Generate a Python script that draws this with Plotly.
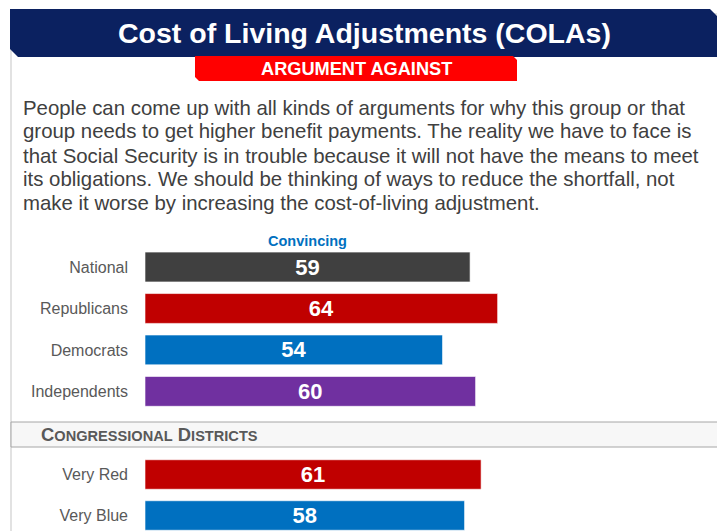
import plotly.graph_objects as go

W, H = 725, 531
OFF = 8  # page body margin offset

TITLE = "Cost of Living Adjustments (COLAs)"
BANNER = "ARGUMENT AGAINST"
BODY_LINES = [
    "People can come up with all kinds of arguments for why this group or that",
    "group needs to get higher benefit payments. The reality we have to face is",
    "that Social Security is in trouble because it will not have the means to meet",
    "its obligations. We should be thinking of ways to reduce the shortfall, not",
    "make it worse by increasing the cost-of-living adjustment.",
]
SERIES_NAME = "Convincing"

groups = ["National", "Republicans", "Democrats", "Independents"]
group_values = [59, 64, 54, 60]
group_colors = ["#404040", "#C00000", "#0070C0", "#7030A0"]

district_header = "Congressional Districts"
districts = ["Very Red", "Very Blue"]
district_values = [61, 58]
district_colors = ["#C00000", "#0070C0"]

FONT = "Liberation Sans, Arial"


def px(x):
    return (x - OFF) / W


def py(y):
    return 1 - (y - OFF) / H


fig = go.Figure()

common = dict(
    orientation="h",
    textposition="inside",
    insidetextanchor="middle",
    textangle=0,
    constraintext="none",
    textfont=dict(family=FONT, size=22, color="white", weight="bold"),
    marker_line=dict(color="rgba(255,255,255,0.6)", width=1),
    hoverinfo="skip",
    showlegend=False,
    cliponaxis=False,
)

fig.add_trace(go.Bar(
    y=groups, x=group_values, text=[str(v) for v in group_values],
    marker_color=group_colors, xaxis="x", yaxis="y", **common))
fig.add_trace(go.Bar(
    y=districts, x=district_values, text=[str(v) for v in district_values],
    marker_color=district_colors, xaxis="x2", yaxis="y2", **common))

xdom = [px(145), px(145 + 551)]
xcommon = dict(range=[0, 100], domain=xdom, showgrid=False, zeroline=False,
               showticklabels=False, showline=False, fixedrange=True)
ycommon = dict(showgrid=False, zeroline=False, showline=False, ticks="",
               tickfont=dict(family=FONT, size=16, color="#595959"),
               ticklabelstandoff=16, fixedrange=True)

top_px, bot_px = 246.3, 412.1
bottom_span = (H + OFF - 454) / 41.0
fig.update_layout(
    xaxis=dict(anchor="y", **xcommon),
    xaxis2=dict(anchor="y2", **xcommon),
    yaxis=dict(domain=[py(bot_px), py(top_px)], range=[3.5, -0.5], anchor="x",
               type="category", categoryorder="array", categoryarray=groups, **ycommon),
    yaxis2=dict(domain=[0, py(454)], range=[-0.5 + bottom_span, -0.5], anchor="x2",
                type="category", categoryorder="array", categoryarray=districts, **ycommon),
    bargap=0.28,
    width=W, height=H,
    margin=dict(l=0, r=0, t=0, b=0),
    paper_bgcolor="white", plot_bgcolor="rgba(0,0,0,0)",
    font=dict(family=FONT),
)

shapes = []
shapes.append(dict(type="rect", xref="paper", yref="paper",
                   x0=px(11), x1=px(719), y0=py(545), y1=py(14),
                   line=dict(color="#D9D9D9", width=1.5), fillcolor="rgba(0,0,0,0)", layer="below"))
pts = [(10, 9), (710, 9), (718, 17), (718, 57), (18, 57), (10, 49)]
path = "M " + " L ".join(f"{px(x):.5f},{py(y):.5f}" for x, y in pts) + " Z"
shapes.append(dict(type="path", xref="paper", yref="paper", path=path,
                   fillcolor="#0B2160", line=dict(width=0), layer="below"))
bpts = [(195, 56), (513, 56), (517, 60), (517, 81), (199, 81), (195, 77)]
bpath = "M " + " L ".join(f"{px(x):.5f},{py(y):.5f}" for x, y in bpts) + " Z"
shapes.append(dict(type="path", xref="paper", yref="paper", path=bpath,
                   fillcolor="#FF0000", line=dict(width=0), layer="below"))
shapes.append(dict(type="rect", xref="paper", yref="paper",
                   x0=px(11), x1=px(719), y0=py(447), y1=py(422),
                   fillcolor="#F7F7F7", line=dict(color="#A6A6A6", width=1), layer="below"))
fig.update_layout(shapes=shapes)


def smallcaps(s, big=18.4, small=14.6):
    out = []
    for word in s.split(" "):
        out.append(f"<span style='font-size:{big}px'>{word[0].upper()}</span>"
                   f"<span style='font-size:{small}px'>{word[1:].upper()}</span>")
    return " ".join(out)


annotations = [
    dict(text=f"<b>{TITLE}</b>", x=px(364), y=py(33), xref="paper", yref="paper",
         showarrow=False, font=dict(size=28.5, color="white", family=FONT),
         xanchor="center", yanchor="middle"),
    dict(text=f"<b>{BANNER}</b>", x=px(356), y=py(69), xref="paper", yref="paper",
         showarrow=False, font=dict(size=18.2, color="white", family=FONT),
         xanchor="center", yanchor="middle"),
    dict(text=f"<b>{SERIES_NAME}</b>", x=px(307), y=py(241), xref="paper", yref="paper",
         showarrow=False, font=dict(size=14.5, color="#0070C0", family=FONT),
         xanchor="center", yanchor="middle"),
    dict(text=f"<b>{smallcaps(district_header)}</b>", x=px(39), y=py(434.5), xref="paper", yref="paper",
         showarrow=False, font=dict(size=18.4, color="#595959", family=FONT),
         xanchor="left", yanchor="middle"),
]
body_y0, body_dy = 107.5, 24.0
for i, line in enumerate(BODY_LINES):
    annotations.append(dict(text=line, x=px(21), y=py(body_y0 + i * body_dy), xref="paper", yref="paper",
                            showarrow=False, align="left", xanchor="left", yanchor="middle",
                            font=dict(size=20.4, color="#404040", family=FONT)))
fig.update_layout(annotations=annotations)

fig.write_html("out.html")
